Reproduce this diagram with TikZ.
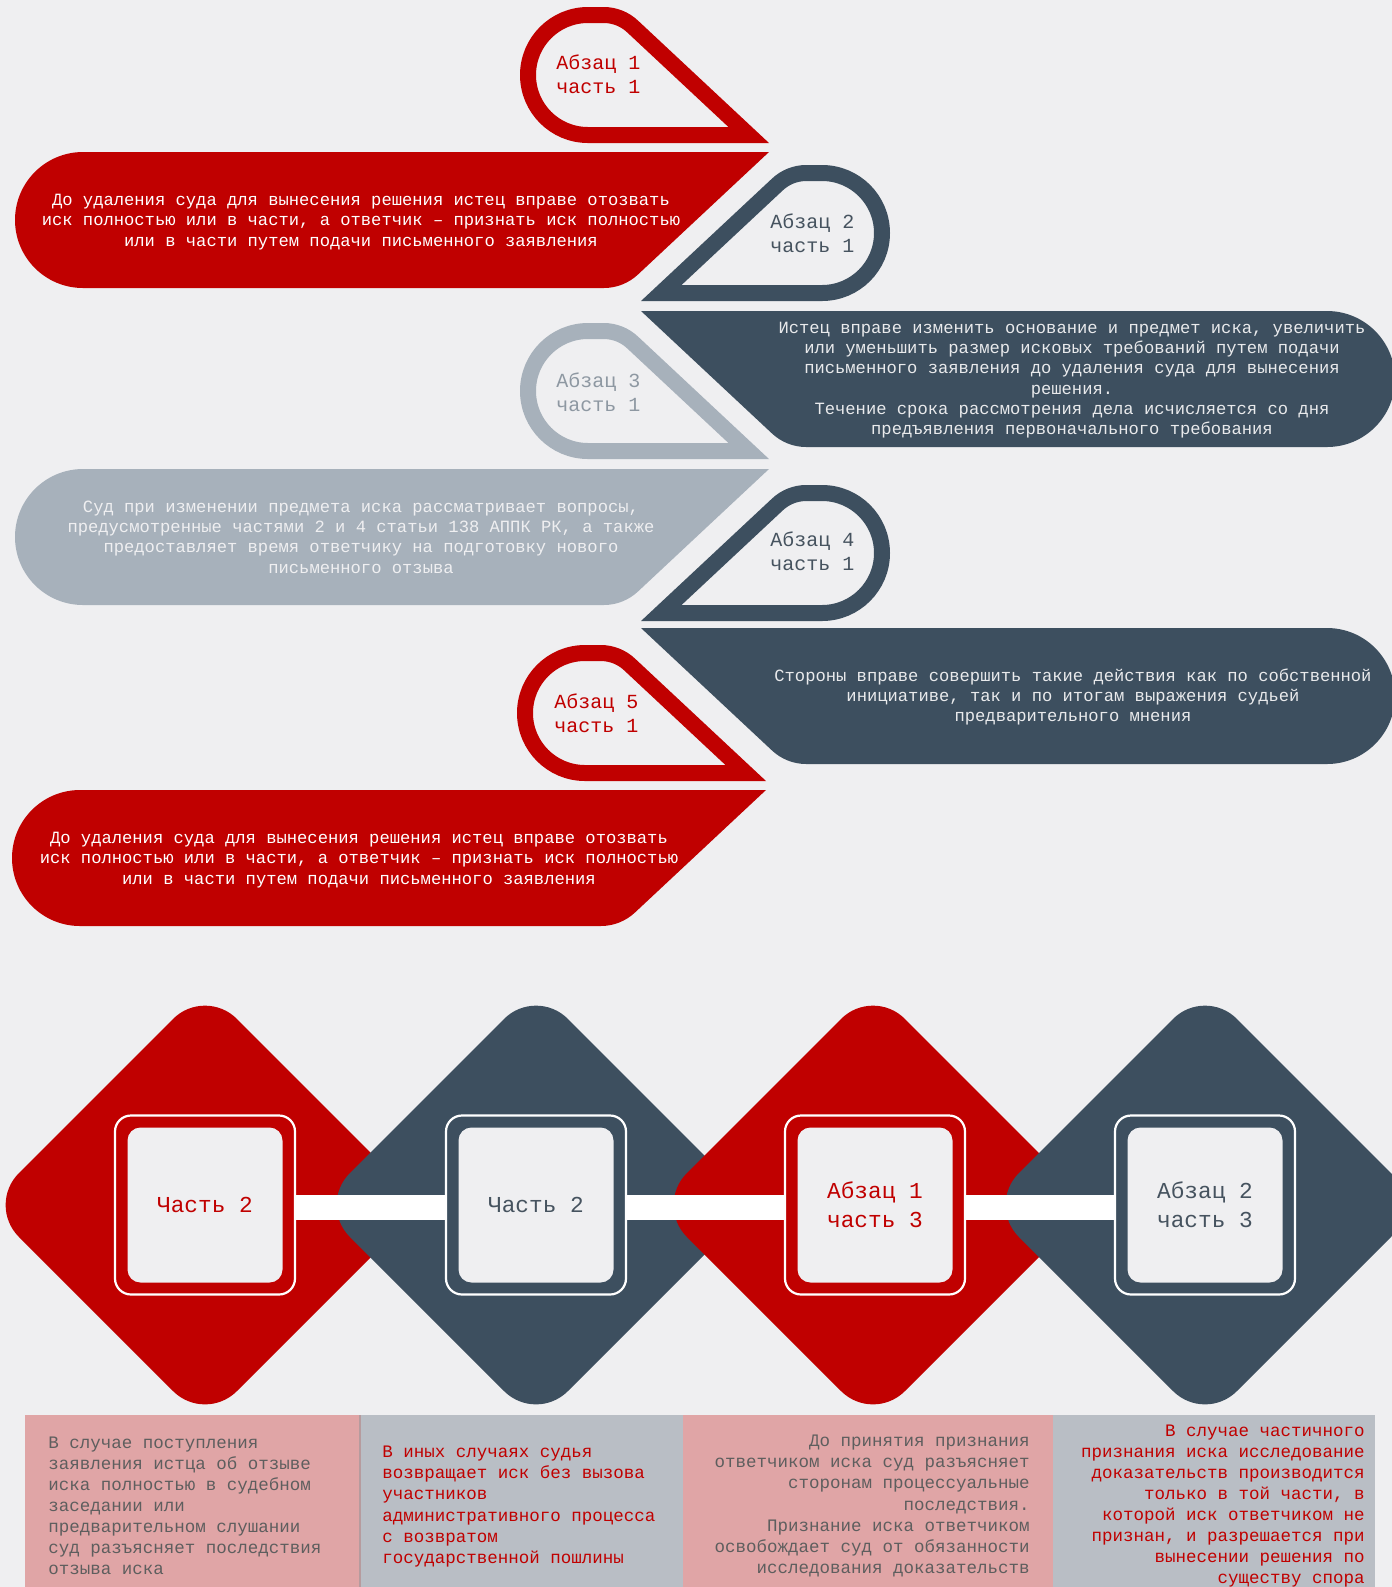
\documentclass[tikz,border=0pt]{standalone}
\usepackage{fontspec}
\newfontfamily\mono{Liberation Mono}
\definecolor{bg}{HTML}{EFEFF1}
\definecolor{cred}{HTML}{C00000}
\definecolor{cdark}{HTML}{3D4F5F}
\definecolor{cgray}{HTML}{A7B1BB}
\definecolor{cpink}{HTML}{E0A5A6}
\definecolor{cbox}{HTML}{B9BEC5}
\definecolor{tdark}{HTML}{46535F}
\definecolor{tgray}{HTML}{8E98A2}
\definecolor{tbox}{HTML}{5E5E5E}
\definecolor{tlight}{HTML}{E9EAEC}
% teardrop outline: colour, outer left, outer top, outer tip x
\newcommand\tdrop[4]{%
  \draw[#1, line width=8pt, line join=miter]
    ({#4-20.28},{#3+128}) -- ({#2+68},{#3+128})
    arc[start angle=90,end angle=270,radius=60]
    -- ({#4-20.28-128.4-16.58},{#3+8})
    arc[start angle=270,end angle=313.06,radius=42] -- cycle;}
% pill bar with diagonal tip: colour, left, top, tip x
\newcommand\pillbar[4]{%
  \fill[#1] (#4,#3) -- ({#2+68},#3)
    arc[start angle=270,end angle=90,radius=68]
    -- ({#4-145.5-19.7},{#3+136})
    arc[start angle=90,end angle=46.94,radius=50] -- cycle;}
% rounded diamond: colour, cx, cy
\newcommand\rdiam[3]{%
  \fill[#1, rounded corners=22.5pt] ({#2-218},#3) -- (#2,{#3-218})
    -- ({#2+218},#3) -- (#2,{#3+218}) -- cycle;}
\tikzset{
  bartxt/.style={font=\mono\fontsize{8.58}{10.15}\selectfont, align=center, inner sep=0pt},
  droptxt/.style={font=\mono\fontsize{10}{12.2}\selectfont, align=left, inner sep=0pt, anchor=west},
  sqout/.style={draw=white, line width=1.1pt, rounded corners=8pt, minimum width=90pt, minimum height=89.5pt, inner sep=0pt},
  sqin/.style={fill=bg, rounded corners=6.5pt, minimum width=77.5pt, minimum height=77.5pt, inner sep=0pt, font=\mono\fontsize{11.4}{14.5}\selectfont, align=center},
  boxtxt/.style={font=\mono\fontsize{8.75}{10.55}\selectfont, inner sep=0pt},
}
\begin{document}
\begin{tikzpicture}[x=0.5pt,y=-0.5pt]
\useasboundingbox (0,0) rectangle (1392,1587);
\clip (0,0) rectangle (1392,1587);
\fill[bg] (0,0) rectangle (1392,1587);

% ---- upper zigzag ----
\tdrop{cred}{520}{7}{769}
\pillbar{cred}{15}{152}{769}
\begin{scope}[shift={(1410,0)},xscale=-1]
  \tdrop{cdark}{520}{165}{769}
  \pillbar{cdark}{15}{311}{769}
\end{scope}
\tdrop{cgray}{520}{323}{769}
\pillbar{cgray}{15}{469}{769}
\begin{scope}[shift={(1410,0)},xscale=-1]
  \tdrop{cdark}{520}{485}{769}
  \pillbar{cdark}{15}{628}{769}
\end{scope}
\tdrop{cred}{517}{645}{766}
\pillbar{cred}{12}{790}{766}

\node[droptxt, text=cred] (l1) at (556,74.5) {Абзац 1\\часть 1};
\node[droptxt, text=tdark] (l2) at (770,233.5) {Абзац 2\\часть 1};
\node[droptxt, text=tgray] (l3) at (556,392) {Абзац 3\\часть 1};
\node[droptxt, text=tdark] (l4) at (770,551) {Абзац 4\\часть 1};
\node[droptxt, text=cred] (l5) at (554,713.5) {Абзац 5\\часть 1};

\node[bartxt, text=white] (b1) at (361,222) {До удаления суда для вынесения решения истец вправе отозвать\\иск полностью или в части, а ответчик – признать иск полностью\\или в части путем подачи письменного заявления};
\node[bartxt, text=tlight] (b2) at (1072,380) {Истец вправе изменить основание и предмет иска, увеличить\\или уменьшить размер исковых требований путем подачи\\письменного заявления до удаления суда для вынесения\\решения.\\Течение срока рассмотрения дела исчисляется со дня\\предъявления первоначального требования};
\node[bartxt, text=bg] (b3) at (361,537) {Суд при изменении предмета иска рассматривает вопросы,\\предусмотренные частями 2 и 4 статьи 138 АППК РК, а также\\предоставляет время ответчику на подготовку нового\\письменного отзыва};
\node[bartxt, text=tlight] (b4) at (1073,697) {Стороны вправе совершить такие действия как по собственной\\инициативе, так и по итогам выражения судьей\\предварительного мнения};
\node[bartxt, text=white] (b5) at (359,860) {До удаления суда для вынесения решения истец вправе отозвать\\иск полностью или в части, а ответчик – признать иск полностью\\или в части путем подачи письменного заявления};

% ---- diamonds ----
\rdiam{cred}{205}{1205}
\rdiam{cdark}{536}{1205}
\rdiam{cred}{873}{1205}
\rdiam{cdark}{1205}{1205}

\node[sqout] (s1) at (205,1205) {};
\node[sqout] (s2) at (536,1205) {};
\node[sqout] (s3) at (875,1205) {};
\node[sqout] (s4) at (1205,1205) {};
\fill[white] ([yshift=5pt]s1.east) rectangle ([yshift=-7.5pt]s2.west);
\fill[white] ([yshift=5pt]s2.east) rectangle ([yshift=-7.5pt]s3.west);
\fill[white] ([yshift=5pt]s3.east) rectangle ([yshift=-7.5pt]s4.west);
\node[sqin, text=cred] (i1) at (s1) {Часть 2};
\node[sqin, text=tdark] (i2) at (s2) {Часть 2};
\node[sqin, text=cred] (i3) at (s3) {Абзац 1\\часть 3};
\node[sqin, text=tdark] (i4) at (s4) {Абзац 2\\часть 3};

% ---- bottom boxes ----
\fill[cpink] (25,1415) rectangle (360,1587);
\fill[cbox] (360,1415) rectangle (683,1587);
\fill[cpink] (683,1415) rectangle (1053,1587);
\fill[cbox] (1053,1415) rectangle (1375,1587);
\draw[cpink!80!black!60!cbox, line width=0.6pt] (360,1415) -- (360,1587);

\node[boxtxt, text=tbox, align=left, anchor=west] (t1) at (48,1506) {В случае поступления\\заявления истца об отзыве\\иска полностью в судебном\\заседании или\\предварительном слушании\\суд разъясняет последствия\\отзыва иска};
\node[boxtxt, text=cred, align=left, anchor=west] (t2) at (382,1506.5) {В иных случаях судья\\возвращает иск без вызова\\участников\\административного процесса\\с возвратом\\государственной пошлины};
\node[boxtxt, text=tbox, align=right, anchor=east] (t3) at (1030,1506) {До принятия признания\\ответчиком иска суд разъясняет\\сторонам процессуальные\\последствия.\\Признание иска ответчиком\\освобождает суд от обязанности\\исследования доказательств};
\node[boxtxt, text=cred, align=right, anchor=east] (t4) at (1365,1506) {В случае частичного\\признания иска исследование\\доказательств производится\\только в той части, в\\которой иск ответчиком не\\признан, и разрешается при\\вынесении решения по\\существу спора};
\end{tikzpicture}
\end{document}
